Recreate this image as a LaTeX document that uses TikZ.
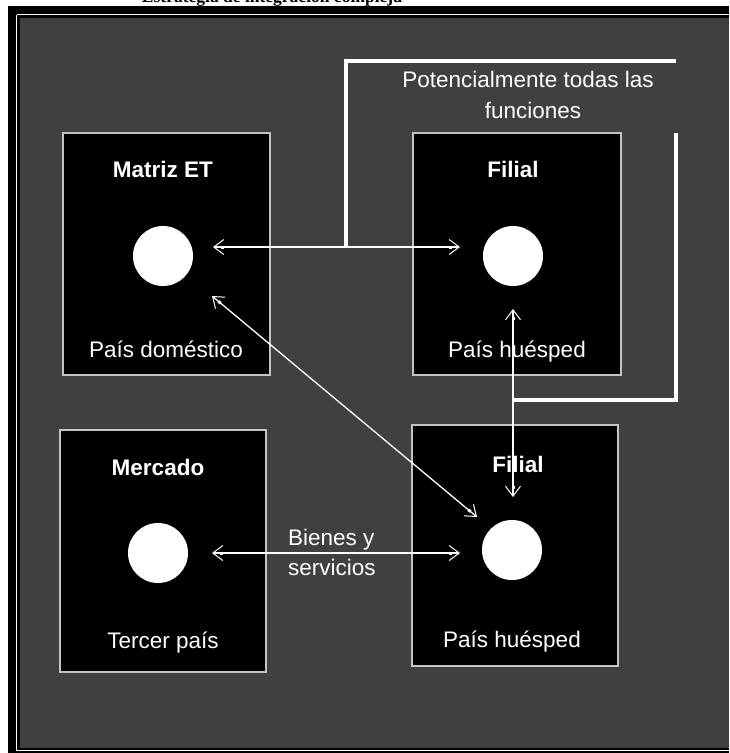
\documentclass[tikz,border=0pt]{standalone}
\usepackage{fontspec}
\setmainfont{Liberation Sans}
\newfontfamily\titlefont{Liberation Serif}
\usetikzlibrary{arrows.meta}
\definecolor{panel}{HTML}{404040}
\definecolor{rim}{HTML}{C4C4C4}
\tikzset{
  unitbox/.style={draw=rim, line width=2pt, fill=black, minimum width=#1, inner sep=0pt},
  dot/.style={circle, fill=white, minimum size=60pt, inner sep=0pt},
  heading/.style={anchor=base, text=white, font=\fontsize{22.5}{26}\selectfont\bfseries, inner sep=0pt},
  caption/.style={anchor=base, text=white, font=\fontsize{22.5}{26}\selectfont, inner sep=0pt},
  barb/.tip={Square[length=3pt,width=3pt,sep=-3pt] Straight Barb[length=10pt,width=15pt,line width=1pt]},
  flow/.style={draw=white, line width=1.3pt, {barb}-{barb}},
  bracket/.style={draw=white, line width=4.5pt}
}
\begin{document}
\begin{tikzpicture}[x=1pt, y=-1pt]
\useasboundingbox (0,0) rectangle (729,753);
\clip (0,0) rectangle (729,753);

% heading strip above the frame
\begin{scope}
  \clip (0,0) rectangle (729,6);
  \node[anchor=base, inner sep=0pt, font=\titlefont\fontsize{17.5}{20}\selectfont\bfseries] (title) at (272,2.5) {Estrategia de integración compleja};
\end{scope}

% framed dark panel
\fill[black] (8,6) rectangle (729,753);
\draw[white, line width=1.5pt] (16.5,14.5) -- (16.5,750.5) -- (729,750.5);
\draw[white, line width=1.5pt] (16.5,14.5) -- (729,14.5);
\fill[panel] (20,17.5) rectangle (729,747.5);

% units
\node[unitbox=207pt, minimum height=242pt] (matriz) at (166.5,254) {};
\node[unitbox=208pt, minimum height=242pt] (filA) at (517,254) {};
\node[unitbox=206pt, minimum height=242pt] (merc) at (163,551) {};
\node[unitbox=206pt, minimum height=241pt] (filB) at (515,545.5) {};

% circles
\node[dot] (cM) at (163,256) {};
\node[dot] (cA) at (513,256) {};
\node[dot] (cK) at (158,553) {};
\node[dot] (cB) at (512,550) {};

% labels
\node[heading] (tM) at (163,177) {Matriz ET};
\node[caption] (pM) at (166,357) {País doméstico};
\node[heading] (tA) at (513,177) {Filial};
\node[caption] (pA) at (517,357) {País huésped};
\node[heading] (tK) at (158,475) {Mercado};
\node[caption] (pK) at (163,648) {Tercer país};
\node[heading] (tB) at (518,472) {Filial};
\node[caption] (pB) at (512,647) {País huésped};

% connector end points
\coordinate (mR) at (213,247);
\coordinate (aL) at (460,247);
\coordinate (mD) at (212,296);
\coordinate (bU) at (477,517);
\coordinate (aD) at (513,309);
\coordinate (bT) at (513,497);
\coordinate (kR) at (212,553);
\coordinate (bL) at (460,553);

% open bracket around the subsidiary
\coordinate (j1) at (346,247);
\coordinate (j2) at (346,61);
\coordinate (j3) at (676,61);
\coordinate (j4) at (676,133);
\coordinate (j5) at (676,400);
\coordinate (j6) at (513,400);
\draw[bracket] (j1) -- (j2) -- (j3);
\draw[bracket] (j4) -- (j5) -- (j6);

% flows
\draw[flow] (mR) -- (aL);
\draw[flow] (mD) -- (bU);
\draw[flow] (aD) -- (bT);
\draw[flow] (kR) -- (bL);

\node[caption] (fn1) at (528,87) {Potencialmente todas las};
\node[caption] (fn2) at (533,118) {funciones};
\node[caption, anchor=base west] (bs1) at (288,545) {Bienes y};
\node[caption, anchor=base west] (bs2) at (288,575) {servicios};
\end{tikzpicture}
\end{document}
